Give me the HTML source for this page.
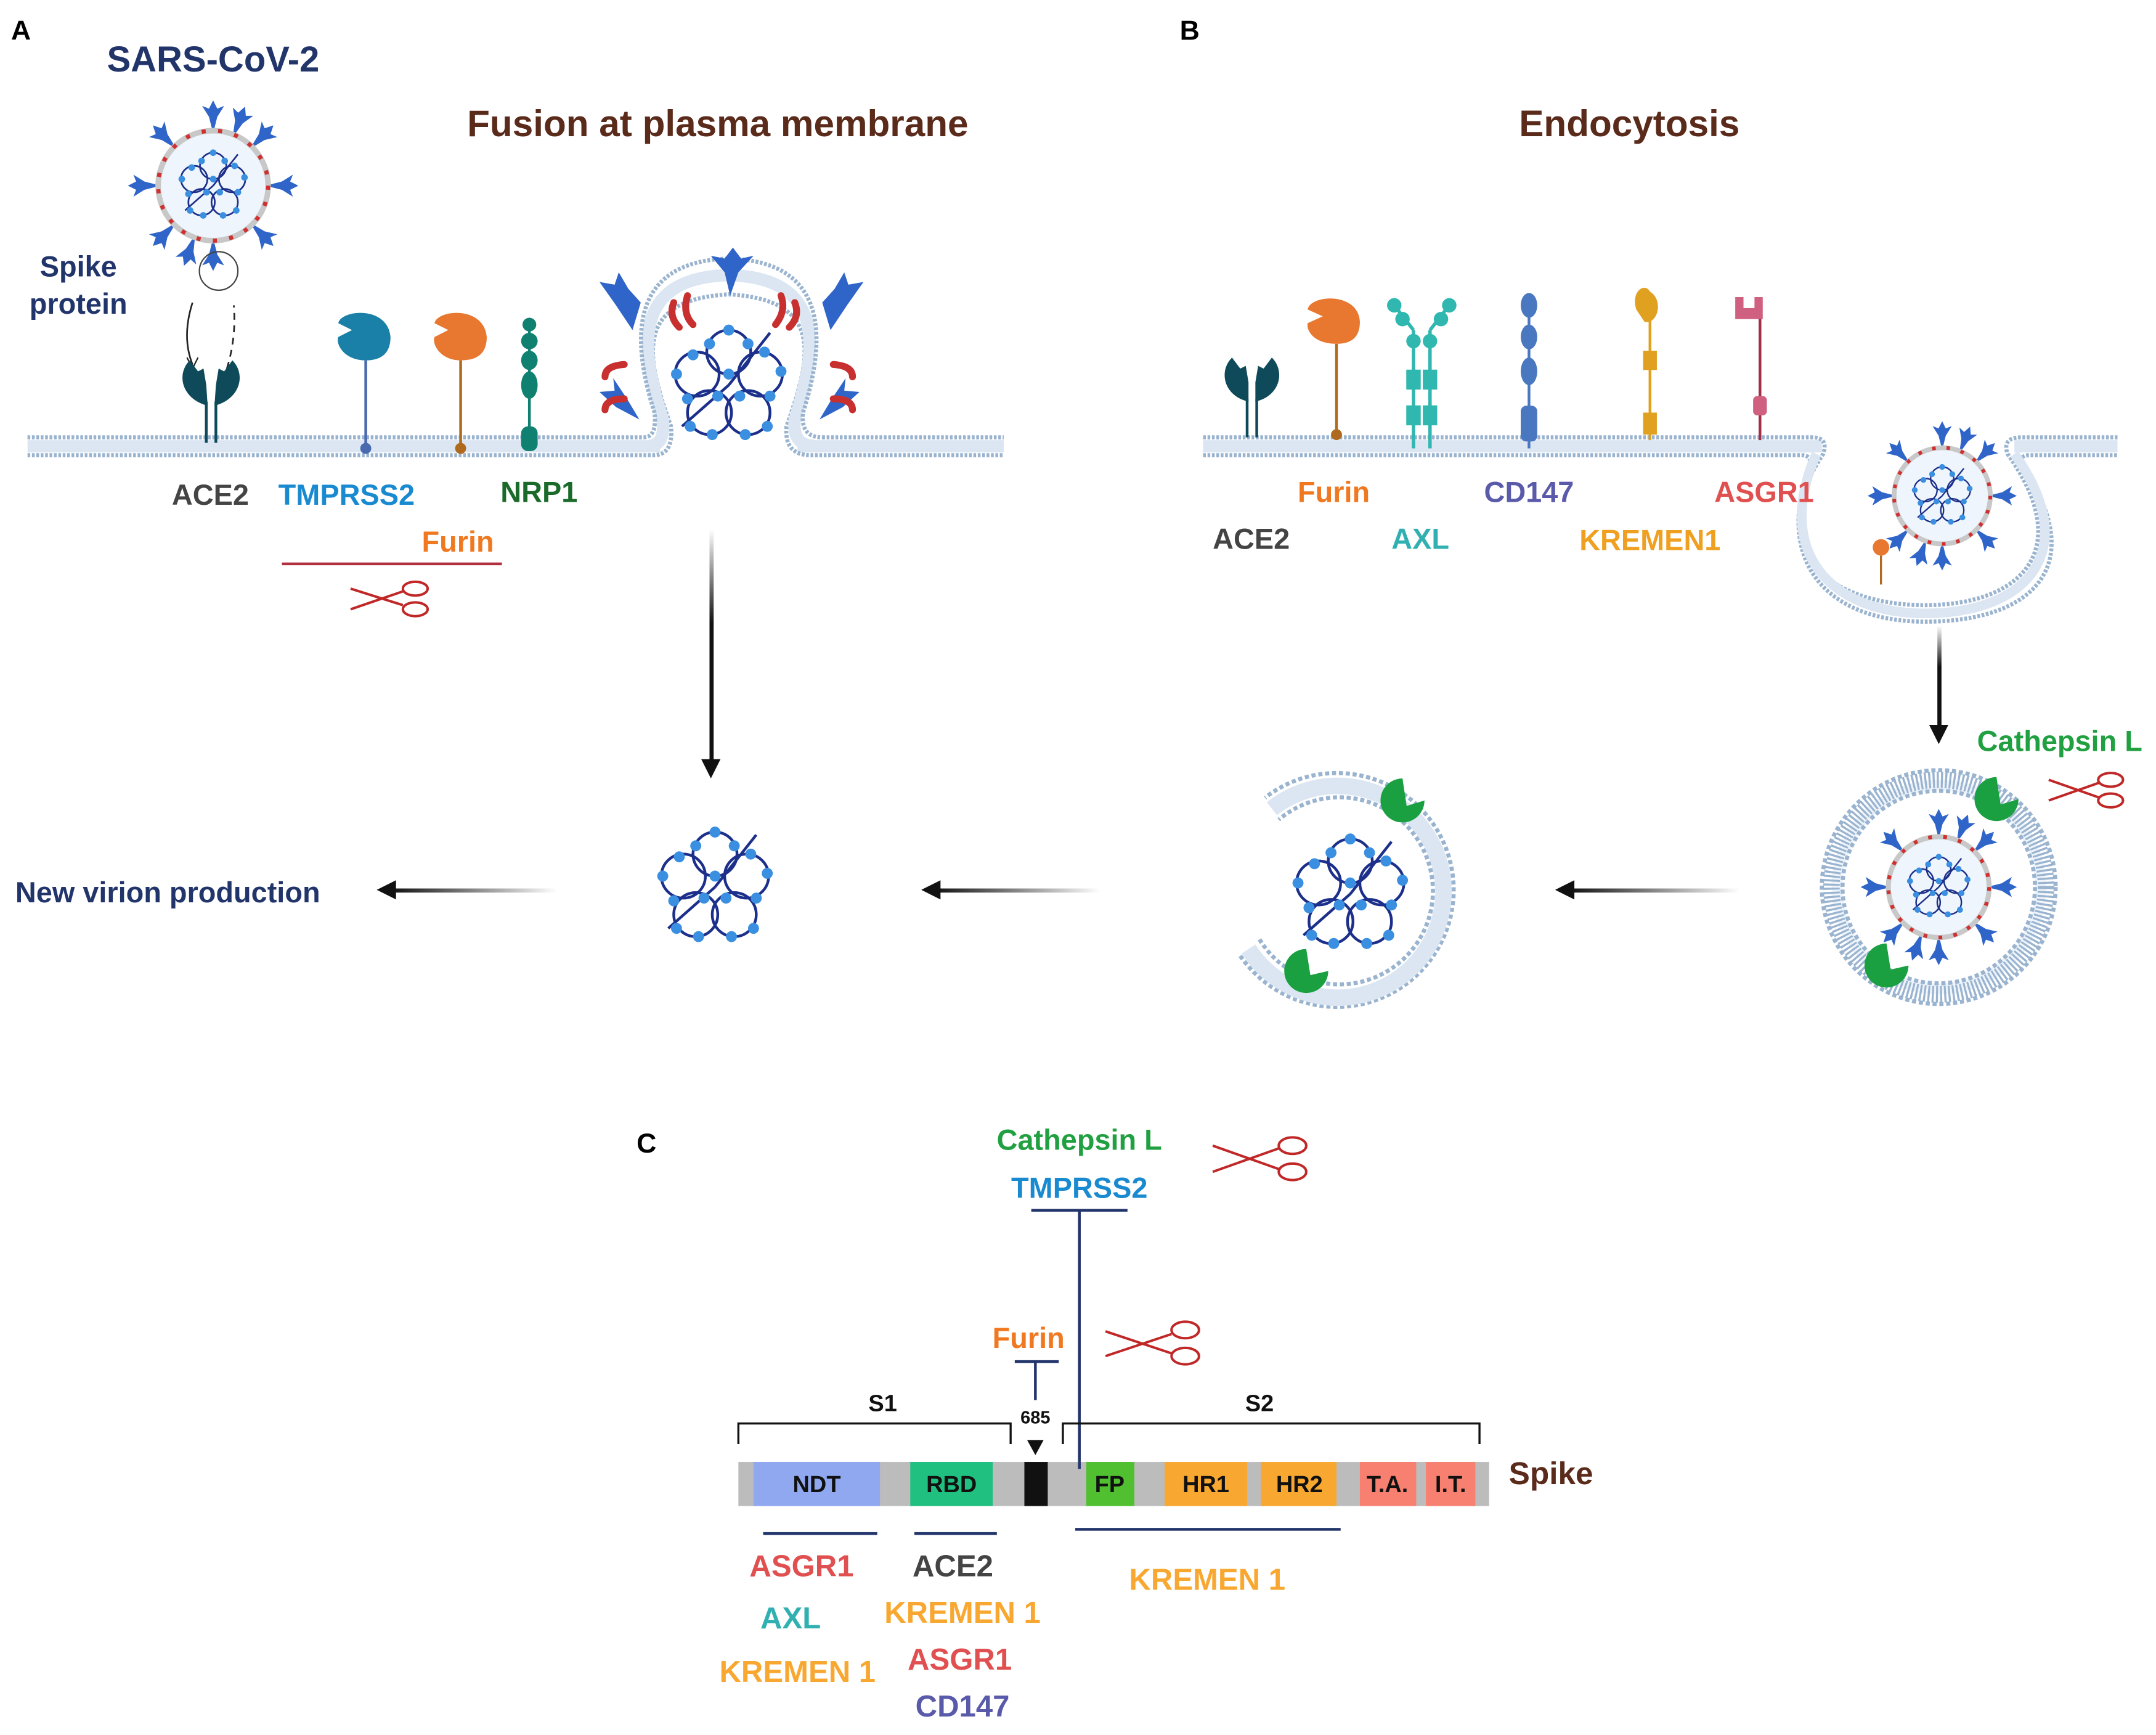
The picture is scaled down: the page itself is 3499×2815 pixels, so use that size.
<!DOCTYPE html>
<html><head><meta charset="utf-8"><style>
html,body{margin:0;padding:0;background:#fff}
svg{display:block}
text{font-family:"Liberation Sans",sans-serif;font-weight:bold}
</style></head><body>
<svg width="3499" height="2815" viewBox="0 0 1568 1261.5" xmlns="http://www.w3.org/2000/svg">
<defs>
<symbol id="gen" viewBox="-50 -50 100 100" overflow="visible">
 <g fill="none" stroke="#1c2f8a" stroke-width="2">
  <circle cx="0" cy="-24" r="16"/><circle cx="23" cy="-8" r="16"/><circle cx="14" cy="20" r="16"/><circle cx="-14" cy="20" r="16"/><circle cx="-23" cy="-8" r="16"/>
  <path d="M0 0 L30 -38 M0 0 L-34 30"/>
 </g>
 <g fill="#3a8fe0">
  <circle cx="0" cy="-40" r="4"/><circle cx="-14" cy="-30" r="4"/><circle cx="14" cy="-30" r="4"/><circle cx="38" cy="-10" r="4"/><circle cx="30" cy="8" r="4"/><circle cx="26" cy="-24" r="4"/>
  <circle cx="28" cy="30" r="4"/><circle cx="12" cy="36" r="4"/><circle cx="-12" cy="36" r="4"/><circle cx="-28" cy="30" r="4"/><circle cx="-38" cy="-8" r="4"/><circle cx="-26" cy="-22" r="4"/>
  <circle cx="0" cy="-8" r="4"/><circle cx="8" cy="8" r="4"/><circle cx="-8" cy="8" r="4"/><circle cx="-30" cy="10" r="4"/>
 </g>
</symbol>
<symbol id="spk" viewBox="-8 -14 16 28" overflow="visible">
 <path d="M0 10 L-3 -2 L-8 -10 L-3 -8 L0 -14 L3 -8 L8 -10 L3 -2 Z" fill="#2f64c8"/>
</symbol>
<symbol id="vir" viewBox="-60 -60 120 120" overflow="visible">
 <g>
  <use href="#spk" x="-8" y="-62" width="16" height="28"/>
  <use href="#spk" x="-8" y="-62" width="16" height="28" transform="rotate(45)"/>
  <use href="#spk" x="-8" y="-62" width="16" height="28" transform="rotate(90)"/>
  <use href="#spk" x="-8" y="-62" width="16" height="28" transform="rotate(135)"/>
  <use href="#spk" x="-8" y="-62" width="16" height="28" transform="rotate(180)"/>
  <use href="#spk" x="-8" y="-62" width="16" height="28" transform="rotate(225)"/>
  <use href="#spk" x="-8" y="-62" width="16" height="28" transform="rotate(270)"/>
  <use href="#spk" x="-8" y="-62" width="16" height="28" transform="rotate(315)"/>
  <use href="#spk" x="-8" y="-62" width="16" height="28" transform="rotate(22)"/>
  <use href="#spk" x="-8" y="-62" width="16" height="28" transform="rotate(200)"/>
 </g>
 <circle r="40" fill="#eef5fc" stroke="#c8c8c8" stroke-width="4"/>
 <circle r="40" fill="none" stroke="#d03030" stroke-width="3" stroke-dasharray="3 9"/>
 <use href="#gen" x="-30" y="-30" width="60" height="60"/>
</symbol>
</defs>

<text x="8" y="29" font-size="20" fill="#000">A</text>
<text x="858" y="29" font-size="20" fill="#000">B</text>
<text x="463" y="838" font-size="20" fill="#000">C</text>

<text x="155" y="52" font-size="26" fill="#22356b" text-anchor="middle">SARS-CoV-2</text>
<text x="522" y="99" font-size="27" fill="#5a2a1a" text-anchor="middle">Fusion at plasma membrane</text>
<text x="1185" y="99" font-size="27" fill="#5a2a1a" text-anchor="middle">Endocytosis</text>

<use href="#vir" x="95" y="75" width="120" height="120"/>
<circle cx="159" cy="197" r="14" fill="none" stroke="#444" stroke-width="1"/>
<text x="57" y="201" font-size="21" fill="#22356b" text-anchor="middle">Spike</text>
<text x="57" y="228" font-size="21" fill="#22356b" text-anchor="middle">protein</text>
<path d="M140 220 Q132 245 140 265" fill="none" stroke="#222" stroke-width="1.2"/>
<path d="M136 260 L140 268 L144 260" fill="none" stroke="#222"/>
<path d="M165 268 Q172 245 170 222" fill="none" stroke="#222" stroke-width="1.2" stroke-dasharray="5 4"/>

<!-- membrane A -->
<g fill="none">
 <path d="M20 324.5 H480 M580 324.5 H730" stroke="#dbe6f2" stroke-width="9"/>
 <path d="M20 318 H468 M598 318 H730" stroke="#9ab4d0" stroke-width="3" stroke-dasharray="2 1.2"/>
 <path d="M20 331 H475 Q490 331 488 310 C470 260 460 218 530 214 C600 218 590 260 572 310 Q570 331 590 331 H730" stroke="#9ab4d0" stroke-width="3" stroke-dasharray="2 1.2"/>
 <path d="M472 324 Q484 324 482 305 C466 255 458 202 530 200 C602 202 594 255 578 305 Q576 324 592 324" stroke="#dbe6f2" stroke-width="9"/>
 <path d="M468 318 Q478 318 476 300 C460 250 455 190 530 188 C605 190 600 250 584 300 Q582 318 598 318" stroke="#9ab4d0" stroke-width="3" stroke-dasharray="2 1.2"/>
</g>
<use href="#gen" x="480" y="230" width="100" height="100"/>
<g fill="#2f64c8">
 <path d="M531 215 L527 198 L517 186 L527 188 L533 180 L539 188 L548 186 L537 198 Z"/>
 <path d="M460 240 L448 222 L436 205 L447 207 L450 198 L457 210 L466 220 Z"/>
 <path d="M604 240 L616 222 L628 205 L617 207 L614 198 L607 210 L598 220 Z"/>
 <path d="M465 305 L448 296 L436 285 L447 284 L446 275 L456 290 Z"/>
 <path d="M596 305 L613 296 L625 285 L614 284 L615 275 L605 290 Z"/>
</g>
<g fill="none" stroke="#c83030" stroke-width="5" stroke-linecap="round">
 <path d="M490 220 Q486 230 494 238 M500 215 Q496 228 504 236"/>
 <path d="M568 215 Q572 226 564 236 M578 220 Q582 230 574 238"/>
 <path d="M454 265 Q440 266 440 274 M454 290 Q440 290 440 298"/>
 <path d="M606 265 Q620 266 620 274 M606 290 Q620 290 620 298"/>
</g>
<g>
 <path d="M150 322 V292 M157 322 V292" stroke="#0e4a5a" stroke-width="2"/>
 <path d="M151 295 C132 290 128 272 138 262 L144 270 L148 268 L150 280 Z M156 295 C175 290 179 272 169 262 L163 270 L159 268 L157 280 Z" fill="#0e4a5a"/>
 <path d="M266 326 V262" stroke="#4a6ab0" stroke-width="2"/><circle cx="266" cy="326" r="4" fill="#4a6ab0"/>
 <path d="M266 262 C250 262 244 250 246 245 L256 240 L246 235 C248 225 282 222 284 245 C284 258 276 262 266 262 Z" fill="#1a80a8"/>
 <path d="M335 326 V262" stroke="#b06a20" stroke-width="2"/><circle cx="335" cy="326" r="4" fill="#b06a20"/>
 <path d="M335 262 C320 262 314 250 316 245 L326 240 L316 235 C318 225 352 222 354 245 C354 258 346 262 335 262 Z" fill="#e87830"/>
 <path d="M385 326 V232" stroke="#108070" stroke-width="2"/>
 <g fill="#108070"><ellipse cx="385" cy="236" rx="5" ry="5"/><ellipse cx="385" cy="248" rx="6" ry="6"/><ellipse cx="385" cy="262" rx="6" ry="7"/><ellipse cx="385" cy="280" rx="6" ry="10"/><rect x="379" y="310" width="12" height="18" rx="5"/></g>
</g>
<text x="153" y="367" font-size="21" fill="#444" text-anchor="middle">ACE2</text>
<text x="252" y="367" font-size="21" fill="#1a8ad0" text-anchor="middle">TMPRSS2</text>
<text x="392" y="365" font-size="21" fill="#1a6a2a" text-anchor="middle">NRP1</text>
<text x="333" y="401" font-size="21" fill="#f07820" text-anchor="middle">Furin</text>
<path d="M205 410 H365" stroke="#b03040" stroke-width="2"/>
<g fill="none" stroke="#c02828" stroke-width="1.8"><ellipse cx="302" cy="428" rx="9" ry="5"/><ellipse cx="302" cy="443" rx="9" ry="5"/><path d="M255 428 L293 440 M255 443 L293 430"/></g>

<defs><linearGradient id="gl" x1="0" x2="1"><stop offset="0" stop-color="#111"/><stop offset="1" stop-color="#111" stop-opacity="0"/></linearGradient>
<linearGradient id="gd" x1="0" y1="0" x2="0" y2="1"><stop offset="0" stop-color="#111" stop-opacity="0"/><stop offset="0.4" stop-color="#111"/></linearGradient></defs>
<rect x="516" y="385" width="3" height="170" fill="url(#gd)"/><path d="M510 552 L517 566 L524 552 Z" fill="#111"/>
<rect x="1409" y="455" width="3" height="75" fill="url(#gd)"/><path d="M1403 527 L1410 541 L1417 527 Z" fill="#111"/>
<rect x="285" y="646" width="120" height="3" fill="url(#gl)"/><path d="M288 640 L274 647 L288 654 Z" fill="#111"/>
<rect x="680" y="646" width="120" height="3" fill="url(#gl)"/><path d="M684 640 L670 647 L684 654 Z" fill="#111"/>
<rect x="1142" y="646" width="123" height="3" fill="url(#gl)"/><path d="M1145 640 L1131 647 L1145 654 Z" fill="#111"/>
<text x="122" y="656" font-size="21" fill="#22356b" text-anchor="middle">New virion production</text>
<use href="#gen" x="470" y="595" width="100" height="100"/>

<!-- membrane B -->
<g fill="none" stroke="#9ab4d0">
 <path d="M875 324.5 H1325 M1465 324.5 H1540" stroke="#dbe6f2" stroke-width="9"/>
 <path d="M875 318 H1318 Q1330 318 1326 330 C1280 400 1330 440 1400 440 C1470 440 1510 400 1460 330 Q1456 318 1470 318 H1540" stroke-width="3" stroke-dasharray="2 1.2"/>
 <path d="M875 331 H1310 Q1318 331 1316 338 C1290 410 1330 452 1400 452 C1480 452 1520 410 1470 338 Q1468 331 1476 331 H1540" stroke-width="3" stroke-dasharray="2 1.2"/>
 <path d="M1321 330 C1290 400 1330 446 1400 446 C1475 446 1515 400 1465 330" stroke="#dbe6f2" stroke-width="7"/>
</g>
<use href="#vir" x="1360" y="308" width="105" height="105"/>
<circle cx="1368" cy="398" r="6" fill="#e87830"/><path d="M1368 404 V425" stroke="#b06a20" stroke-width="1.5"/>
<g>
 <path d="M907 318 V290 M914 318 V290" stroke="#0e4a5a" stroke-width="2"/>
 <path d="M908 292 C890 288 886 270 896 260 L902 268 L906 266 L908 278 Z M913 292 C931 288 935 270 925 260 L919 268 L915 266 L913 278 Z" fill="#0e4a5a"/>
 <path d="M972 318 V250" stroke="#b06a20" stroke-width="2"/><circle cx="972" cy="316" r="4" fill="#b06a20"/>
 <path d="M972 250 C955 250 950 240 951 235 L962 230 L951 225 C953 214 988 212 989 234 C989 246 982 250 972 250 Z" fill="#e87830"/>
 <g stroke="#30b8b0" stroke-width="2.5" fill="#30b8b0">
  <path d="M1028 326 V240 M1040 326 V240 M1028 240 L1014 222 M1040 240 L1054 222"/>
  <circle cx="1014" cy="222" r="4"/><circle cx="1054" cy="222" r="4"/><circle cx="1020" cy="232" r="4"/><circle cx="1048" cy="232" r="4"/><circle cx="1028" cy="248" r="4"/><circle cx="1040" cy="248" r="4"/>
  <rect x="1024" y="270" width="8" height="12"/><rect x="1036" y="270" width="8" height="12"/><rect x="1024" y="296" width="8" height="12"/><rect x="1036" y="296" width="8" height="12"/>
 </g>
 <path d="M1112 326 V215" stroke="#4a78c0" stroke-width="2"/>
 <g fill="#4a78c0"><ellipse cx="1112" cy="222" rx="6" ry="9"/><ellipse cx="1112" cy="245" rx="6" ry="9"/><ellipse cx="1112" cy="270" rx="6" ry="10"/><rect x="1106" y="295" width="12" height="26" rx="4"/></g>
 <path d="M1200 320 V230" stroke="#e0a020" stroke-width="2"/>
 <g fill="#e0a020"><path d="M1190 225 C1186 212 1196 205 1200 212 C1210 218 1206 236 1196 234 Z"/><rect x="1195" y="255" width="10" height="14"/><rect x="1195" y="300" width="10" height="16"/></g>
 <path d="M1280 320 V225" stroke="#a03048" stroke-width="2"/>
 <path d="M1262 216 H1268 V224 H1276 V216 H1282 V232 H1262 Z" fill="#d06080"/>
 <rect x="1275" y="288" width="10" height="14" rx="3" fill="#d06080"/>
</g>
<text x="970" y="365" font-size="21" fill="#f07820" text-anchor="middle">Furin</text>
<text x="1112" y="365" font-size="21" fill="#5a5aaa" text-anchor="middle">CD147</text>
<text x="1283" y="365" font-size="21" fill="#e05050" text-anchor="middle">ASGR1</text>
<text x="910" y="399" font-size="21" fill="#444" text-anchor="middle">ACE2</text>
<text x="1033" y="399" font-size="21" fill="#30b0b0" text-anchor="middle">AXL</text>
<text x="1200" y="400" font-size="21" fill="#f0a020" text-anchor="middle">KREMEN1</text>
<text x="1498" y="546" font-size="21" fill="#20a040" text-anchor="middle">Cathepsin L</text>
<g fill="none" stroke="#c02828" stroke-width="1.8"><ellipse cx="1535" cy="567" rx="9" ry="5"/><ellipse cx="1535" cy="582" rx="9" ry="5"/><path d="M1490 567 L1527 580 M1490 582 L1527 569"/></g>

<circle cx="1410" cy="645" r="78" fill="#eef4fb" stroke="#9ab4d0" stroke-width="12" stroke-dasharray="1.5 1.5"/>
<circle cx="1410" cy="645" r="85" fill="none" stroke="#9ab4d0" stroke-width="3" stroke-dasharray="3 2"/>
<circle cx="1410" cy="645" r="70" fill="#fff" stroke="#9ab4d0" stroke-width="3" stroke-dasharray="3 2"/>
<use href="#vir" x="1355" y="590" width="110" height="110"/>
<path d="M1452 565 a16 16 0 1 0 16 16 L1455 585 Z" fill="#1aa040"/>
<path d="M1372 686 a16 16 0 1 0 16 16 L1375 705 Z" fill="#1aa040"/>

<path d="M902 695 A85 85 0 1 0 920 580" fill="none" stroke="#9ab4d0" stroke-width="3" stroke-dasharray="3 2"/>
<path d="M908 690 A77 77 0 1 0 925 588" fill="none" stroke="#dbe6f2" stroke-width="12"/>
<path d="M916 683 A68 68 0 1 0 930 596" fill="none" stroke="#9ab4d0" stroke-width="3" stroke-dasharray="3 2"/>
<use href="#gen" x="932" y="600" width="100" height="100"/>
<path d="M1020 566 a16 16 0 1 0 16 16 L1023 586 Z" fill="#1aa040"/>
<path d="M950 690 a16 16 0 1 0 16 16 L953 709 Z" fill="#1aa040"/>

<text x="785" y="836" font-size="21" fill="#20a040" text-anchor="middle">Cathepsin L</text>
<text x="785" y="871" font-size="21" fill="#1a8ad0" text-anchor="middle">TMPRSS2</text>
<path d="M750 880 H820 M785 880 V1068" stroke="#22356b" stroke-width="2"/>
<g fill="none" stroke="#c02828" stroke-width="1.8"><ellipse cx="940" cy="833" rx="10" ry="6"/><ellipse cx="940" cy="852" rx="10" ry="6"/><path d="M882 833 L930 850 M882 852 L930 835"/></g>
<text x="748" y="980" font-size="21" fill="#f07820" text-anchor="middle">Furin</text>
<path d="M738 990 H770 M753 990 V1018" stroke="#22356b" stroke-width="2"/>
<g fill="none" stroke="#c02828" stroke-width="1.8"><ellipse cx="862" cy="967" rx="10" ry="6"/><ellipse cx="862" cy="986" rx="10" ry="6"/><path d="M804 968 L852 984 M804 986 L852 970"/></g>
<text x="753" y="1035" font-size="13" fill="#111" text-anchor="middle">685</text>
<path d="M747 1047 L759 1047 L753 1058 Z" fill="#111"/>
<path d="M537 1050 V1035 H735 V1050 M773 1050 V1035 H1076 V1050" fill="none" stroke="#111" stroke-width="1.5"/>
<text x="642" y="1026" font-size="17" fill="#111" text-anchor="middle">S1</text>
<text x="916" y="1026" font-size="17" fill="#111" text-anchor="middle">S2</text>
<rect x="537" y="1063" width="546" height="32" fill="#bcbcbc"/>
<rect x="548" y="1063" width="92" height="32" fill="#8fa8f0"/>
<rect x="662" y="1063" width="60" height="32" fill="#20c080"/>
<rect x="745" y="1063" width="17" height="32" fill="#111"/>
<rect x="790" y="1063" width="35" height="32" fill="#50c030"/>
<rect x="847" y="1063" width="60" height="32" fill="#f8a830"/>
<rect x="917" y="1063" width="55" height="32" fill="#f8a830"/>
<rect x="989" y="1063" width="41" height="32" fill="#f88070"/>
<rect x="1037" y="1063" width="36" height="32" fill="#f88070"/>
<g font-size="17" fill="#111" text-anchor="middle">
<text x="594" y="1085">NDT</text><text x="692" y="1085">RBD</text><text x="807" y="1085">FP</text><text x="877" y="1085">HR1</text><text x="945" y="1085">HR2</text><text x="1009" y="1085">T.A.</text><text x="1055" y="1085">I.T.</text>
</g>
<path d="M785 1063 V1068" stroke="#22356b" stroke-width="2"/>
<text x="1128" y="1079" font-size="23" fill="#5a2a1a" text-anchor="middle">Spike</text>
<path d="M555 1115 H638 M665 1115 H725 M782 1112 H975" stroke="#22356b" stroke-width="2"/>
<g font-size="22" text-anchor="middle">
<text x="583" y="1146" fill="#e05050">ASGR1</text>
<text x="575" y="1184" fill="#30b0b0">AXL</text>
<text x="580" y="1223" fill="#f8a830">KREMEN 1</text>
<text x="693" y="1146" fill="#444">ACE2</text>
<text x="700" y="1180" fill="#f8a830">KREMEN 1</text>
<text x="698" y="1214" fill="#e05050">ASGR1</text>
<text x="700" y="1248" fill="#5a5aaa">CD147</text>
<text x="878" y="1156" fill="#f8a830">KREMEN 1</text>
</g>
</svg>
</body></html>
